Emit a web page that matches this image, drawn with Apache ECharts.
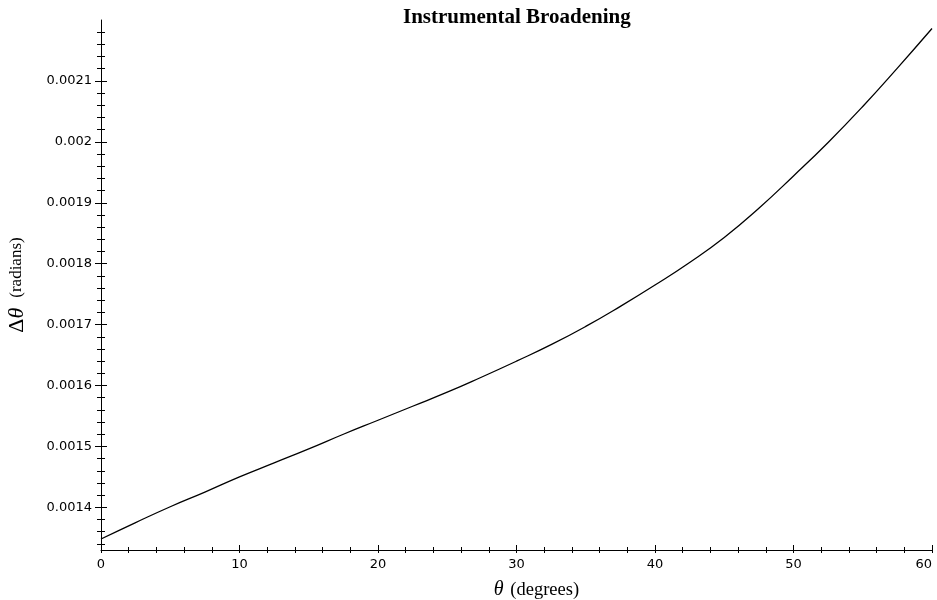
<!DOCTYPE html>
<html><head><meta charset="utf-8">
<script src="https://cdn.jsdelivr.net/npm/echarts@6/dist/echarts.min.js"></script>
<style>html,body{margin:0;padding:0;background:#fff}#c{width:937px;height:600px}</style>
</head><body><div id="c"></div>
<script>
// ---- data ----
const thetaDeg = [0, 2.5, 5, 7.5, 10, 12.5, 15, 17.5, 20, 22.5, 25, 27.5, 30, 32.5, 35, 37.5, 40, 42.5, 45, 47.5, 50, 52.5, 55, 57.5, 60];
const deltaTheta = [0.001348, 0.001375, 0.001401, 0.001425, 0.001450, 0.001473, 0.001496, 0.001520, 0.001543, 0.001566, 0.001589, 0.001614, 0.001640, 0.001667, 0.001697, 0.001730, 0.001765, 0.001802, 0.001843, 0.001891, 0.001944, 0.001999, 0.002058, 0.002121, 0.002186];
const xTickValues = [0, 10, 20, 30, 40, 50, 60];
const xTickLabels = ['0', '10', '20', '30', '40', '50', '60'];
const yTickValues = [0.0014, 0.0015, 0.0016, 0.0017, 0.0018, 0.0019, 0.0020, 0.0021];
const yTickLabels = ['0.0014', '0.0015', '0.0016', '0.0017', '0.0018', '0.0019', '0.002', '0.0021'];
const xMinorStep = 2;
const yMinorStep = 0.00002;
const xRange = [0, 60];
const yRange = [0.00133, 0.0022];
const titleText = 'Instrumental Broadening';

// ---- build ----
function minorTicks(range, step, majors) {
  const out = [];
  const start = Math.ceil(range[0] / step - 1e-9);
  const end = Math.floor(range[1] / step + 1e-9);
  for (let k = start; k <= end; k++) {
    const v = +(k * step).toPrecision(10);
    if (v >= range[1] - step * 0.01) continue;
    if (majors.some(m => Math.abs(m - v) < step * 0.01)) continue;
    out.push(v);
  }
  return out;
}
const xMinor = minorTicks(xRange, xMinorStep, xTickValues);
const yMinor = minorTicks(yRange, yMinorStep, yTickValues);

const G = { left: 101, right: 5, top: 20, bottom: 50, containLabel: false, outerBoundsMode: 'none' };
const grids = [0, 1, 2, 3].map(() => Object.assign({}, G));

function lookup(vals, labels, v) {
  let best = 0, d = Infinity;
  vals.forEach((t, i) => { const dd = Math.abs(t - v); if (dd < d) { d = dd; best = i; } });
  return labels[best];
}

const tickSpec = [
  // [grid, x values, x inside, x len, y values, y inside, y len]
  [0, xTickValues, false, 3, yTickValues, false, 6],
  [1, xTickValues, true, 5, yTickValues, true, 6],
  [2, xMinor, false, 3, yMinor, false, 4],
  [3, xMinor, true, 3, yMinor, true, 4]
];

const xAxes = tickSpec.map(s => ({
  type: 'value', gridIndex: s[0], min: xRange[0], max: xRange[1], position: 'bottom',
  splitLine: { show: false },
  axisLine: { show: s[0] === 0, onZero: false, lineStyle: { color: '#000', width: 1 } },
  axisTick: { show: true, customValues: s[1], inside: s[2], length: s[3], lineStyle: { color: '#000', width: 1 } },
  axisLabel: { show: false }
}));
const yAxes = tickSpec.map(s => ({
  type: 'value', gridIndex: s[0], min: yRange[0], max: yRange[1], position: 'left',
  splitLine: { show: false },
  axisLine: { show: s[0] === 0, onZero: false, lineStyle: { color: '#000', width: 1 } },
  axisTick: { show: true, customValues: s[4], inside: s[5], length: s[6], lineStyle: { color: '#000', width: 1 } },
  axisLabel: { show: false }
}));

Object.assign(xAxes[0], {
  axisLabel: {
    show: true, customValues: xTickValues, margin: 8, alignMaxLabel: 'right',
    formatter: v => lookup(xTickValues, xTickLabels, v),
    fontFamily: 'DejaVu Sans', fontSize: 13, color: '#000'
  },
  name: '{t|θ}  {d|(degrees)}', nameLocation: 'middle', nameGap: 30,
  nameTextStyle: {
    padding: [0, 0, 0, 40],
    rich: {
      t: { fontFamily: 'Liberation Serif', fontStyle: 'italic', fontSize: 20, color: '#000' },
      d: { fontFamily: 'Liberation Serif', fontSize: 18.5, color: '#000' }
    }
  }
});
Object.assign(yAxes[0], {
  axisLabel: {
    show: true, customValues: yTickValues, margin: 9,
    formatter: v => lookup(yTickValues, yTickLabels, v),
    fontFamily: 'DejaVu Sans', fontSize: 13, color: '#000'
  },
  name: '{g|Δ}{t|θ}   {d|(radians)}', nameLocation: 'middle', nameGap: 73,
  nameTextStyle: {
    rich: {
      g: { fontFamily: 'Liberation Serif', fontSize: 22, color: '#000' },
      t: { fontFamily: 'Liberation Serif', fontStyle: 'italic', fontSize: 22, color: '#000' },
      d: { fontFamily: 'Liberation Serif', fontSize: 17, color: '#000' }
    }
  }
});

const chart = echarts.init(document.getElementById('c'), null, { renderer: 'canvas' });
chart.setOption({
  animation: false,
  backgroundColor: '#fff',
  title: {
    text: titleText, left: 403, top: 7, padding: 0,
    textStyle: { fontFamily: 'Liberation Serif', fontWeight: 'bold', fontSize: 21, color: '#000' }
  },
  grid: grids,
  xAxis: xAxes,
  yAxis: yAxes,
  series: [{
    type: 'line', xAxisIndex: 0, yAxisIndex: 0,
    data: thetaDeg.map((t, i) => [t, deltaTheta[i]]),
    smooth: true, showSymbol: false,
    lineStyle: { color: '#000', width: 1.3 }
  }]
});
</script>
</body></html>
